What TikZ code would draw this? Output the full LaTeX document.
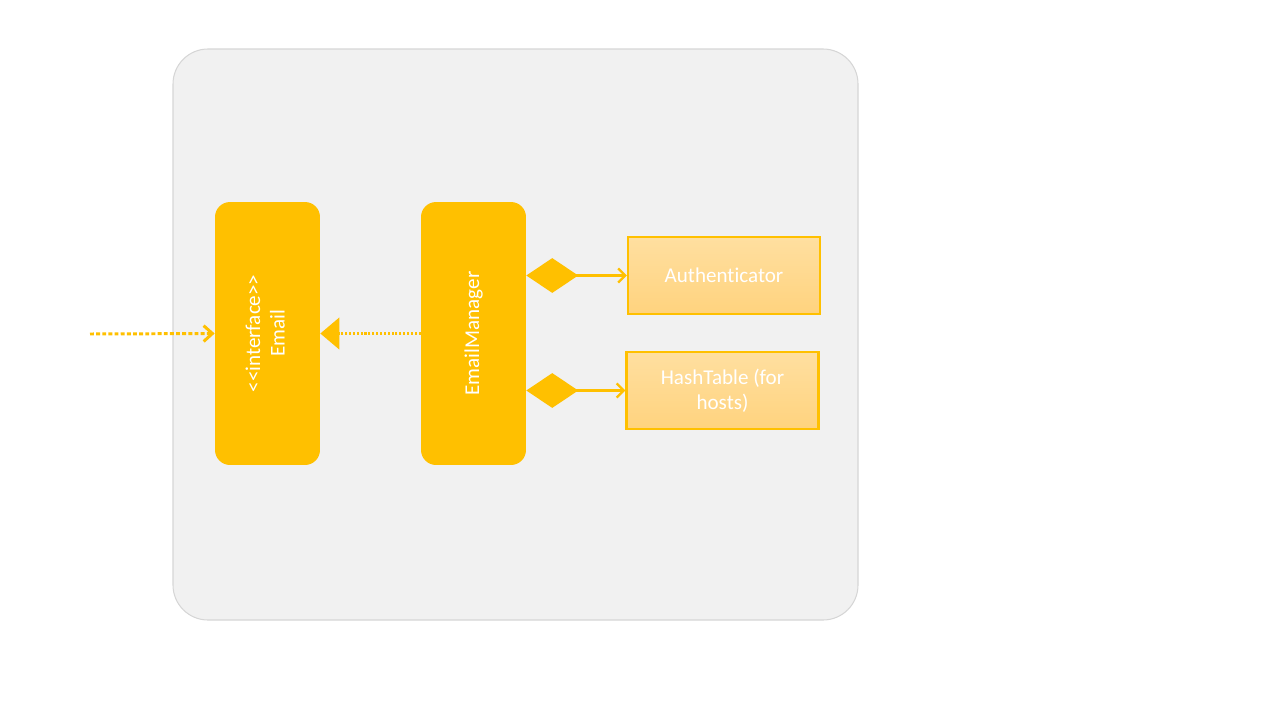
\documentclass[tikz,border=0pt]{standalone}
\usepackage{fontspec}
\setmainfont{Carlito}[Ligatures={TeX,NoCommon}]
\usetikzlibrary{arrows.meta,positioning}

\definecolor{gold}{HTML}{FFC000}
\definecolor{paleback}{HTML}{F1F1F1}
\definecolor{paleedge}{HTML}{D6D6D6}
\definecolor{lighttop}{HTML}{FFDFA0}
\definecolor{lightbot}{HTML}{FFD37E}

\tikzset{
  classbar/.style={fill=gold, rounded corners=0.3cm, minimum width=2.1cm,
                   minimum height=5.26cm, text=white, inner sep=0pt},
  partbox/.style={draw=gold, line width=1.3pt, top color=lighttop, bottom color=lightbot,
                  minimum width=3.84cm, minimum height=1.54cm, text=white,
                  align=center, font=\fontsize{12}{14}\selectfont},
  owns/.style={gold, line width=1.3pt,
               {Diamond[length=29.5pt,width=19.8pt]}-{Straight Barb[length=4pt,width=8pt]}}
}

\begin{document}
\begin{tikzpicture}[x=0.02cm,y=-0.02cm]
  \useasboundingbox (0,0) rectangle (1280,720);

  \draw[fill=paleback, draw=paleedge, line width=0.6pt, rounded corners=0.7cm]
       (173,49) rectangle (858,620);                                 % package frame

  \node[classbar] (email) at (267.5,333.5)
       {\rotatebox{90}{\fontsize{12}{14}\selectfont
        \begin{tabular}{@{}c@{}}<\kern0pt<interface>\kern0pt>\\Email\end{tabular}}};
  \node[classbar] (mgr) at (473.5,333.5)
       {\rotatebox{90}{\fontsize{12}{14}\selectfont EmailManager}};

  \node[partbox] (auth) at (724,275.5) {Authenticator};
  \node[partbox] (hash) at (722.5,390.5) {HashTable (for\\hosts)};

  \coordinate (caller) at (90,334);                                  % outside user

  \draw[gold, line width=1.7pt, dash pattern=on 2.2pt off 1.3pt,
        -{Straight Barb[length=5pt,width=9pt]}] (caller) -- (email.west);  % uses interface
  \draw[gold, line width=1.2pt, dash pattern=on 1.2pt off 1pt,
        -{Triangle[length=10.8pt,width=18pt]}] (mgr.west) -- (email.east); % implements

  \draw[owns] (mgr.east |- auth) -- (auth.west);                     % has authenticator
  \draw[owns] (mgr.east |- hash) -- (hash.west);                     % has host table
\end{tikzpicture}
\end{document}
